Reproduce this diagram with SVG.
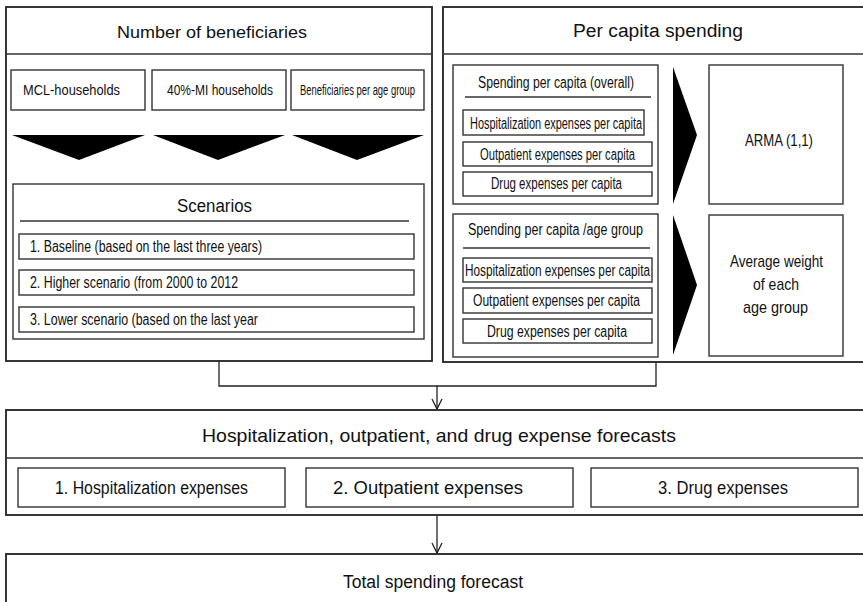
<svg xmlns="http://www.w3.org/2000/svg" width="863" height="602" viewBox="0 0 863 602">
<style>
.frame{fill:#fff;stroke:#222;stroke-width:1.8}
.box{fill:#fff;stroke:#333;stroke-width:1.4}
.rule{stroke:#333;stroke-width:1.4}
.tri{fill:#000}
.conn{fill:none;stroke:#222;stroke-width:1.3}
text{font-family:"Liberation Sans",Arial,sans-serif;fill:#111}
</style>
<rect width="863" height="602" fill="#fff"/>

<g id="beneficiaries">
<rect class="frame" x="6" y="7" width="426" height="354"/>
<line class="rule" x1="6" y1="54" x2="432" y2="54"/>
<text x="117" y="38" font-size="17" textLength="190" lengthAdjust="spacingAndGlyphs">Number of beneficiaries</text>
</g>

<g id="mcl">
<rect class="box" x="11" y="70" width="134" height="40"/>
<text x="23" y="95" font-size="15" textLength="97" lengthAdjust="spacingAndGlyphs">MCL-households</text>
</g>
<g id="mi40">
<rect class="box" x="152" y="70" width="134" height="40"/>
<text x="167" y="95" font-size="15" textLength="106" lengthAdjust="spacingAndGlyphs">40%-MI households</text>
</g>
<g id="agegroup">
<rect class="box" x="291" y="70" width="133" height="40"/>
<text x="300" y="95" font-size="14" textLength="115" lengthAdjust="spacingAndGlyphs">Beneficiaries per age group</text>
</g>

<g id="down-arrows">
<polygon class="tri" points="12,135 145,135 79,160"/>
<polygon class="tri" points="153,135 285,135 218,160"/>
<polygon class="tri" points="292,135 424,135 357,160"/>
</g>

<g id="scenarios">
<rect class="box" x="13" y="184" width="411" height="155"/>
<text x="177" y="212" font-size="18" textLength="75" lengthAdjust="spacingAndGlyphs">Scenarios</text>
<line class="rule" x1="20" y1="221" x2="409" y2="221"/>
</g>
<g id="scenario1">
<rect class="box" x="19" y="234" width="395" height="25"/>
<text x="30" y="252" font-size="16" textLength="232" lengthAdjust="spacingAndGlyphs">1. Baseline (based on the last three years)</text>
</g>
<g id="scenario2">
<rect class="box" x="19" y="270" width="395" height="25"/>
<text x="30" y="288" font-size="16" textLength="208" lengthAdjust="spacingAndGlyphs">2. Higher scenario (from 2000 to 2012</text>
</g>
<g id="scenario3">
<rect class="box" x="19" y="307" width="395" height="25"/>
<text x="30" y="325" font-size="16" textLength="228" lengthAdjust="spacingAndGlyphs">3. Lower scenario (based on the last year</text>
</g>

<g id="percapita">
<rect class="frame" x="443" y="7" width="430" height="355"/>
<line class="rule" x1="443" y1="54" x2="863" y2="54"/>
<text x="573" y="37" font-size="18" textLength="170" lengthAdjust="spacingAndGlyphs">Per capita spending</text>
</g>

<g id="overall">
<rect class="box" x="453" y="65" width="205" height="139"/>
<text x="478" y="88" font-size="16" textLength="156" lengthAdjust="spacingAndGlyphs">Spending per capita (overall)</text>
<line class="rule" x1="465" y1="97" x2="651" y2="97"/>
</g>
<g id="overall-hosp">
<rect class="box" x="463" y="110" width="181" height="25"/>
<text x="470" y="129" font-size="16" textLength="172" lengthAdjust="spacingAndGlyphs">Hospitalization expenses per capita</text>
</g>
<g id="overall-out">
<rect class="box" x="463" y="142" width="189" height="24"/>
<text x="480" y="160" font-size="16" textLength="155" lengthAdjust="spacingAndGlyphs">Outpatient expenses per capita</text>
</g>
<g id="overall-drug">
<rect class="box" x="463" y="172" width="189" height="24"/>
<text x="491" y="189" font-size="16" textLength="131" lengthAdjust="spacingAndGlyphs">Drug expenses per capita</text>
</g>

<g id="bygroup">
<rect class="box" x="453" y="214" width="205" height="143"/>
<text x="468" y="235" font-size="16" textLength="175" lengthAdjust="spacingAndGlyphs">Spending per capita /age group</text>
<line class="rule" x1="463" y1="248" x2="650" y2="248"/>
</g>
<g id="group-hosp">
<rect class="box" x="463" y="258" width="189" height="24"/>
<text x="465" y="276" font-size="16" textLength="185" lengthAdjust="spacingAndGlyphs">Hospitalization expenses per capita</text>
</g>
<g id="group-out">
<rect class="box" x="463" y="288" width="189" height="25"/>
<text x="473" y="306" font-size="16" textLength="167" lengthAdjust="spacingAndGlyphs">Outpatient expenses per capita</text>
</g>
<g id="group-drug">
<rect class="box" x="463" y="319" width="189" height="24"/>
<text x="487" y="337" font-size="16" textLength="140" lengthAdjust="spacingAndGlyphs">Drug expenses per capita</text>
</g>

<g id="right-arrows">
<polygon class="tri" points="673,67 697,135 673,204"/>
<polygon class="tri" points="673,215 697,285 673,355"/>
</g>

<g id="arma">
<rect class="box" x="709" y="65" width="134" height="139"/>
<text x="745" y="146" font-size="17" textLength="68" lengthAdjust="spacingAndGlyphs">ARMA (1,1)</text>
</g>
<g id="weight">
<rect class="box" x="709" y="215" width="134" height="141"/>
<text x="730" y="267" font-size="17" textLength="93" lengthAdjust="spacingAndGlyphs">Average weight</text>
<text x="753" y="290" font-size="17" textLength="46" lengthAdjust="spacingAndGlyphs">of each</text>
<text x="743" y="313" font-size="17" textLength="65" lengthAdjust="spacingAndGlyphs">age group</text>
</g>

<g id="connectors">
<polyline class="conn" points="219,361 219,386 656,386 656,362"/>
<line class="conn" x1="437" y1="386" x2="437" y2="409"/>
<polyline class="conn" points="432,399 437,409 442,399"/>
<line class="conn" x1="437" y1="515" x2="437" y2="553"/>
<polyline class="conn" points="432,543 437,553 442,543"/>
</g>

<g id="forecasts">
<rect class="frame" x="6" y="410" width="870" height="105"/>
<line class="rule" x1="6" y1="458" x2="863" y2="458"/>
<text x="202" y="442" font-size="19" textLength="474" lengthAdjust="spacingAndGlyphs">Hospitalization, outpatient, and drug expense forecasts</text>
</g>
<g id="hosp-exp">
<rect class="box" x="18" y="468" width="267" height="39"/>
<text x="55" y="494" font-size="18" textLength="193" lengthAdjust="spacingAndGlyphs">1. Hospitalization expenses</text>
</g>
<g id="out-exp">
<rect class="box" x="306" y="468" width="267" height="39"/>
<text x="333" y="494" font-size="18" textLength="190" lengthAdjust="spacingAndGlyphs">2. Outpatient expenses</text>
</g>
<g id="drug-exp">
<rect class="box" x="591" y="468" width="267" height="39"/>
<text x="658" y="494" font-size="18" textLength="130" lengthAdjust="spacingAndGlyphs">3. Drug expenses</text>
</g>

<g id="total">
<rect class="frame" x="6" y="554" width="870" height="60"/>
<text x="343" y="588" font-size="18" textLength="180" lengthAdjust="spacingAndGlyphs">Total spending forecast</text>
</g>
</svg>
